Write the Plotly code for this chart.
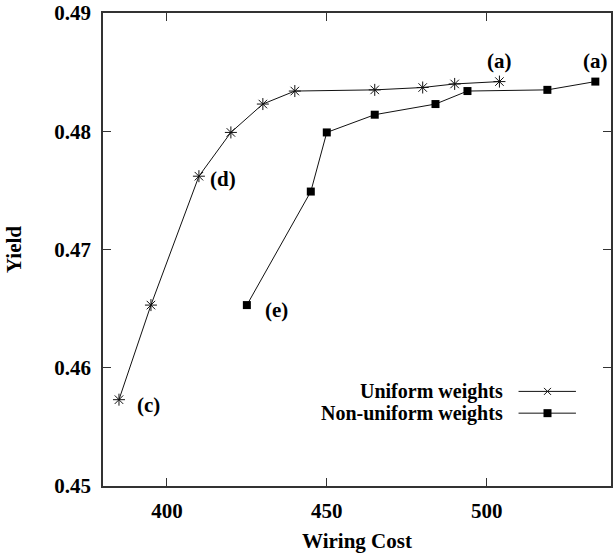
import plotly.graph_objects as go

# Data
uniform_cost = [385, 395, 410, 420, 430, 440, 465, 480, 490, 504]
uniform_yield = [0.4573, 0.4653, 0.4762, 0.4799, 0.4823, 0.4834, 0.4835, 0.4837, 0.4840, 0.4842]

nonuni_cost = [425, 445, 450, 465, 484, 494, 519, 534]
nonuni_yield = [0.4653, 0.4749, 0.4799, 0.4814, 0.4823, 0.4834, 0.4835, 0.4842]

series_names = ["Uniform weights", "Non-uniform weights"]
x_ticks = [400, 450, 500]
y_ticks = [0.45, 0.46, 0.47, 0.48, 0.49]

FONT = "Liberation Serif"
INK = "#111111"
FS = 21

fig = go.Figure()

fig.add_trace(go.Scatter(
    x=uniform_cost, y=uniform_yield, mode="lines+markers",
    line=dict(color=INK, width=1),
    marker=dict(symbol="asterisk-open", size=10, color=INK, line=dict(width=1, color=INK)),
    showlegend=False, name=series_names[0]))

fig.add_trace(go.Scatter(
    x=nonuni_cost, y=nonuni_yield, mode="lines+markers",
    line=dict(color=INK, width=1),
    marker=dict(symbol="square", size=8, color="black"),
    showlegend=False, name=series_names[1]))

# Legend samples (gnuplot-style: text right-aligned, sample on right) on an overlay axis
leg_y = [0.200, 0.154]
fig.add_trace(go.Scatter(x=[0.818, 0.931], y=[leg_y[0]] * 2, mode="lines", xaxis="x2", yaxis="y2",
                         line=dict(color=INK, width=1), showlegend=False, hoverinfo="skip"))
fig.add_trace(go.Scatter(x=[0.875], y=[leg_y[0]], mode="markers", xaxis="x2", yaxis="y2",
                         marker=dict(symbol="x-thin-open", size=7, color=INK, line=dict(width=1, color=INK)),
                         showlegend=False, hoverinfo="skip"))
fig.add_trace(go.Scatter(x=[0.818, 0.931], y=[leg_y[1]] * 2, mode="lines", xaxis="x2", yaxis="y2",
                         line=dict(color=INK, width=1), showlegend=False, hoverinfo="skip"))
fig.add_trace(go.Scatter(x=[0.875], y=[leg_y[1]], mode="markers", xaxis="x2", yaxis="y2",
                         marker=dict(symbol="square", size=8, color="black"),
                         showlegend=False, hoverinfo="skip"))

annotations = []
for name, yy in zip(series_names, leg_y):
    annotations.append(dict(x=0.792, y=yy, xref="x2", yref="y2", text=f"<b>{name}</b>",
                            showarrow=False, xanchor="right", yanchor="middle",
                            font=dict(family=FONT, size=20, color="black")))

lab_font = dict(family=FONT, size=FS, color="black")
annotations += [
    dict(x=uniform_cost[-1], y=uniform_yield[-1], text="<b>(a)</b>", showarrow=False,
         xanchor="center", yanchor="middle", yshift=21, font=lab_font),
    dict(x=nonuni_cost[-1], y=nonuni_yield[-1], text="<b>(a)</b>", showarrow=False,
         xanchor="center", yanchor="middle", yshift=21, font=lab_font),
    dict(x=uniform_cost[2], y=uniform_yield[2], text="<b>(d)</b>", showarrow=False,
         xanchor="left", yanchor="middle", xshift=9, yshift=-3, font=lab_font),
    dict(x=nonuni_cost[0], y=nonuni_yield[0], text="<b>(e)</b>", showarrow=False,
         xanchor="left", yanchor="middle", xshift=16, yshift=-5, font=lab_font),
    dict(x=uniform_cost[0], y=uniform_yield[0], text="<b>(c)</b>", showarrow=False,
         xanchor="left", yanchor="middle", xshift=16, yshift=-5, font=lab_font),
]

axis_common = dict(
    showgrid=False, zeroline=False, showline=True, linecolor="#333333", linewidth=1.5,
    mirror="ticks", ticks="inside", ticklen=8, tickwidth=1, tickcolor="#333333",
    tickfont=dict(family=FONT, size=FS, color="black"),
)

fig.update_layout(
    width=613, height=555,
    margin=dict(l=103, r=0, t=13, b=69),
    paper_bgcolor="white", plot_bgcolor="white",
    xaxis=dict(range=[380, 538.9], tickvals=x_ticks, ticktext=[f"<b>{v}</b>" for v in x_ticks],
               title=dict(text="<b>Wiring Cost</b>", font=dict(family=FONT, size=FS, color="black"), standoff=11),
               ticklabelstandoff=5, **axis_common),
    yaxis=dict(range=[0.45, 0.49], tickvals=y_ticks, ticktext=[f"<b>{v:.2f}</b>" for v in y_ticks],
               title=dict(text="<b>Yield</b>", font=dict(family=FONT, size=FS, color="black"), standoff=27),
               ticklabelstandoff=6, **axis_common),
    xaxis2=dict(range=[0, 1], overlaying="x", visible=False, fixedrange=True),
    yaxis2=dict(range=[0, 1], overlaying="y", visible=False, fixedrange=True),
    annotations=annotations,
    showlegend=False,
)

fig.write_html("out.html")
